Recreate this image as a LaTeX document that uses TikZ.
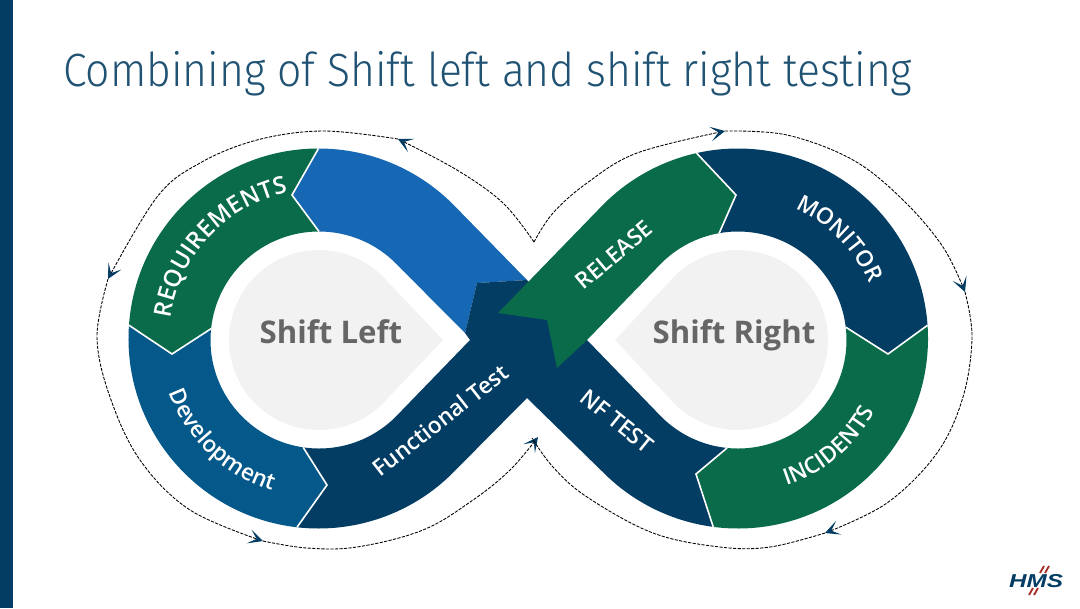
\documentclass[tikz,border=0pt]{standalone}
\usepackage{fontspec}
\setmainfont{Open Sans}
\newfontfamily\titlefont[Ligatures=NoCommon]{Fira Sans Light}
\newfontfamily\bandface{Open Sans Semibold}
\newfontfamily\logofont{Liberation Sans}
\usetikzlibrary{arrows.meta, calc, decorations.text}
\definecolor{barnavy}{HTML}{033D63}
\definecolor{reqgreen}{HTML}{0A6B4A}
\definecolor{leftblue}{HTML}{1668B4}
\definecolor{devblue}{HTML}{05598A}
\definecolor{dropgrey}{HTML}{F2F2F2}
\definecolor{dropword}{HTML}{666666}
\definecolor{titleblue}{HTML}{1F5273}
\definecolor{logored}{HTML}{A8322B}
\newcommand{\bandfont}{\bandface\fontsize{17}{17}\selectfont}
\newcommand{\reqfont}{\bandface\fontsize{18}{18}\selectfont}
\begin{document}
\begin{tikzpicture}[
    x=0.75pt, y=0.75pt, yscale=-1,
    >=Stealth,
    gap/.style={draw=white, line width=1.2pt, line join=miter},
    drop/.style={fill=dropgrey},
    dashline/.style={draw=black, line width=0.65pt, dash pattern=on 2.4pt off 1pt},
    head/.style={-{Stealth[length=11pt, width=11pt, inset=6pt, color=barnavy]}},
    band/.style={text=white, font=\bandfont},
    word/.style={anchor=base, text=dropword, font=\fontsize{23.4}{24}\selectfont\bfseries},
    slash/.style={draw=logored, line width=1.4pt},
]
\useasboundingbox (0,0) rectangle (1080,608);
% --- bar and title ---
\fill[barnavy] (0,0) rectangle (13,608);
\node[anchor=base west, inner sep=0pt, text=titleblue, font=\titlefont\fontsize{35}{35}\selectfont] (title) at (63,86) {\scalebox{0.914}[1]{Combining of Shift left and shift right testing}};
% --- loop centres ---
\coordinate (cL) at (318.5,338.5);
\coordinate (cR) at (738,338.5);
\coordinate (iL) at (319,340);
\coordinate (iR) at (738,340);
% --- corners of the bands ---
\coordinate (reqtop) at ($(cL)+(-90:190)$);
\coordinate (reqnotch) at (292,195);
\coordinate (reqin) at ($(iL)+(-90:108.5)$);
\coordinate (reqout) at ($(cL)+(184:190)$);
\coordinate (devnotch) at (172,354);
\coordinate (devin) at ($(iL)+(186:108.5)$);
\coordinate (funin) at ($(iL)+(98.4:108.5)$);
\coordinate (funnotch) at (327,485);
\coordinate (funout) at ($(cL)+(96.5:190)$);
\coordinate (reltop) at ($(cR)+(257.4:190)$);
\coordinate (relnotch) at (736,195);
\coordinate (relin) at ($(iR)+(260:108.5)$);
\coordinate (monout) at ($(cR)+(-4:190)$);
\coordinate (monnotch) at (888,354);
\coordinate (monin) at ($(iR)+(-6.8:108.5)$);
\coordinate (incout) at ($(cR)+(97.5:190)$);
\coordinate (incnotch) at (696,474);
\coordinate (incin) at ($(iR)+(95.8:108.5)$);
% ============================================================
% BANDS
% ============================================================
% --- Requirements ---
\fill[reqgreen] (reqtop) -- (reqnotch) -- (reqin) arc[start angle=-90, end angle=-174, radius=108.5] -- (devnotch) -- (reqout) arc[start angle=184, end angle=270, radius=190] -- cycle;
% --- Development ---
\fill[devblue] (reqout) -- (devnotch) -- (devin) arc[start angle=186, end angle=98.4, radius=108.5] -- (funnotch) -- (funout) arc[start angle=96.5, end angle=184, radius=190] -- cycle;
% --- blue band ---
\fill[leftblue] (reqtop) arc[start angle=-90, end angle=-45, radius=190] -- (527,280) -- (477,283) -- (465,333) -- ($(iL)+(-45:108.5)$) arc[start angle=-45, end angle=-90, radius=108.5] -- (reqnotch) -- cycle;
% --- Functional test and NF test ---
\fill[barnavy] (funin) -- (funnotch) -- (funout) arc[start angle=96.5, end angle=45, radius=190] -- (527,398) -- ($(cR)+(135:190)$) arc[start angle=135, end angle=97.5, radius=190] -- (incnotch) -- (incin) arc[start angle=95.8, end angle=135, radius=108.5] -- (587,340) -- (527,280) -- (477,283) -- (465,333) -- (470,340) -- ($(iL)+(45:108.5)$) arc[start angle=45, end angle=98.4, radius=108.5] -- cycle;
% --- Release ---
\fill[reqgreen] (498,313) -- ($(cR)+(225:190)$) arc[start angle=225, end angle=257.4, radius=190] -- (relnotch) -- (relin) arc[start angle=260, end angle=225, radius=108.5] -- (587,340) -- (557,368) -- (547,320) -- cycle;
% --- Monitor ---
\fill[barnavy] (reltop) arc[start angle=257.4, end angle=356, radius=190] -- (monnotch) -- (monin) arc[start angle=353.2, end angle=260, radius=108.5] -- (relnotch) -- cycle;
% --- Incidents ---
\fill[reqgreen] (monout) arc[start angle=-4, end angle=97.5, radius=190] -- (incnotch) -- (incin) arc[start angle=95.8, end angle=-6.8, radius=108.5] -- (monnotch) -- cycle;
% --- white joints ---
\draw[gap] (reqtop) -- (reqnotch) -- (reqin);
\draw[gap] (reqout) -- (devnotch) -- (devin);
\draw[gap] (funin) -- (funnotch) -- (funout);
\draw[gap] (reltop) -- (relnotch) -- (relin);
\draw[gap] (monout) -- (monnotch) -- (monin);
\draw[gap] (incout) -- (incnotch) -- (incin);
% ============================================================
% GREY DROPS
% ============================================================
\fill[drop] (443,340) -- ($(iL)+(45:90)$) arc[start angle=45, end angle=315, radius=90] -- cycle;
\fill[drop] (615,340) -- ($(iR)+(225:90)$) arc[start angle=225, end angle=495, radius=90] -- cycle;
\node[word] (shiftleft) at (331,343) {Shift Left};
\node[word] (shiftright) at (734,343) {Shift Right};
% ============================================================
% LABELS
% ============================================================
\path[decorate, decoration={text along path, text align=center, text color=white, text={|\reqfont|REQUIREMENTS}}] ($(cL)+(178:149)$) arc[start angle=178, end angle=268, radius=149];
\path[decorate, decoration={text along path, text align=center, text color=white, text={|\bandfont|Development}}] ($(cL)+(168.5:159)$) arc[start angle=168.5, end angle=98.5, radius=159];
\path[decorate, decoration={text along path, text align=center, text color=white, text={|\bandfont|MONITOR}}] ($(cR)+(-74.5:142)$) arc[start angle=-74.5, end angle=-14.5, radius=142];
\path[decorate, decoration={text along path, text align=center, text color=white, text={|\bandfont|INCIDENTS}}] ($(cR)+(80:155)$) arc[start angle=80, end angle=20, radius=155];
\node[band, rotate=40] (release) at (614,255) {RELEASE};
\node[band, rotate=38] (funtest) at (440,420) {Functional Test};
\node[band, rotate=-39] (nftest) at (617,421) {NF TEST};
% ============================================================
% DASHED ROUTE
% ============================================================
\draw[dashline, head] plot[smooth, tension=0.6] coordinates {(534,242) (503,203) (457,170) (398,139)};
\draw[dashline, head] plot[smooth, tension=0.6] coordinates {(398,139) (323,131) (257,140) (200,163) (157,197) (108,279)};
\draw[dashline, head] plot[smooth, tension=0.6] coordinates {(108,279) (97,337) (110,397) (140,460) (190,510) (263,541)};
\draw[dashline, head] plot[smooth, tension=0.6] coordinates {(263,541) (307,548) (357,547) (423,530) (473,500) (510,470) (538,437)};
\draw[dashline, head] plot[smooth, tension=0.6] coordinates {(534,242) (553,213) (587,183) (637,153) (725,131)};
\draw[dashline, head] plot[smooth, tension=0.6] coordinates {(725,131) (787,135) (853,160) (903,200) (943,247) (965,292)};
\draw[dashline, head] plot[smooth, tension=0.6] coordinates {(965,292) (972,337) (963,397) (937,453) (887,503) (825,533)};
\draw[dashline] plot[smooth, tension=0.6] coordinates {(825,533) (770,547) (720,547) (653,533) (587,497) (553,467) (532,438)};
% ============================================================
% LOGO
% ============================================================
\node[inner sep=0pt, text=barnavy, font=\logofont\fontsize{14}{14}\selectfont\bfseries\itshape] (logo) at (1036,581) {\scalebox{1.3}[1]{HMS}};
\foreach \xa/\ya in {1040/573, 1045/573, 1029/595, 1034/595} {
    \draw[slash] (\xa,\ya) -- (\xa+4,\ya-7);
}
\end{tikzpicture}
\end{document}
